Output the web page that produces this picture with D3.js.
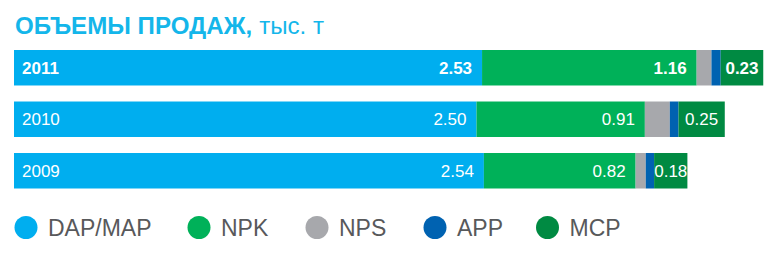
<!DOCTYPE html>
<html lang="ru">
<head>
    <meta charset="utf-8">
    <script src="https://cdn.jsdelivr.net/npm/d3@7"></script>
    <style>
        body { margin: 0; background: #fff; }
        text { font-family: "Liberation Sans", Arial, sans-serif; }
    </style>
</head>
<body>
    <svg width="782" height="261"></svg>
    <script>
        var years = ["2011", "2010", "2009"];
        var seriesNames = ["DAP/MAP", "NPK", "NPS", "APP", "MCP"];
        var dapMap = [2.53, 2.50, 2.54];
        var npk = [1.16, 0.91, 0.82];
        var nps = [0.08, 0.135, 0.055];
        var app = [0.05, 0.047, 0.045];
        var mcp = [0.23, 0.25, 0.18];
        var colors = ["#00aeef", "#00b159", "#a7a8ac", "#0062b1", "#008a42"];

        var rows = years.map(function(y, i) {
            return {year: y, "DAP/MAP": dapMap[i], NPK: npk[i], NPS: nps[i], APP: app[i], MCP: mcp[i]};
        });

        var svg = d3.select("svg");

        // title
        var title = svg.append("text")
            .attr("x", 15)
            .attr("y", 33.5)
            .attr("fill", "#14b6ea")
            .attr("font-size", "24px")
            .attr("textLength", 309)
            .attr("lengthAdjust", "spacingAndGlyphs");
        title.append("tspan").attr("font-weight", "bold").text("ОБЪЕМЫ ПРОДАЖ,");
        title.append("tspan").attr("dx", 7).text("тыс. т");

        var x = d3.scaleLinear().domain([0, 4]).range([14, 754]);
        var y = d3.scaleBand().domain(years).range([50, 188.5]).paddingInner(0.311);
        var color = d3.scaleOrdinal().domain(seriesNames).range(colors);

        var stacked = d3.stack().keys(seriesNames)(rows);

        // bars
        var layers = svg.append("g").selectAll("g")
            .data(stacked)
            .enter().append("g")
            .attr("fill", function(d) { return color(d.key); });

        layers.selectAll("rect")
            .data(function(d) { return d; })
            .enter().append("rect")
            .attr("x", function(d) { return x(d[0]); })
            .attr("y", function(d) { return y(d.data.year); })
            .attr("width", function(d) { return x(d[1]) - x(d[0]); })
            .attr("height", y.bandwidth());

        var fmt = d3.format(".2f");
        var weight = function(yr) { return yr === "2011" ? "bold" : "normal"; };

        // value labels
        layers.each(function(layer) {
            if (layer.key === "NPS" || layer.key === "APP") return;
            d3.select(this).selectAll("text")
                .data(layer)
                .enter().append("text")
                .attr("fill", "#fff")
                .attr("font-size", "17px")
                .attr("font-weight", function(d) { return weight(d.data.year); })
                .attr("dy", "0.36em")
                .attr("y", function(d) { return y(d.data.year) + y.bandwidth() / 2; })
                .attr("text-anchor", layer.key === "MCP" ? "middle" : "end")
                .attr("x", function(d) {
                    return layer.key === "MCP" ? (x(d[0]) + x(d[1])) / 2 : x(d[1]) - 10;
                })
                .text(function(d) { return fmt(d[1] - d[0]); });
        });

        // year labels
        svg.append("g").selectAll("text")
            .data(years)
            .enter().append("text")
            .attr("x", x(0) + 8)
            .attr("y", function(d) { return y(d) + y.bandwidth() / 2; })
            .attr("dy", "0.36em")
            .attr("fill", "#fff")
            .attr("font-size", "17px")
            .attr("font-weight", weight)
            .text(function(d) { return d; });

        // legend
        var legendX = [26, 199, 317, 435, 547.5];
        var legend = svg.append("g").selectAll("g")
            .data(seriesNames)
            .enter().append("g")
            .attr("transform", function(d, i) { return "translate(" + legendX[i] + ",227.5)"; });

        legend.append("circle")
            .attr("r", 11.5)
            .attr("fill", function(d) { return color(d); });

        legend.append("text")
            .attr("x", 22)
            .attr("dy", "0.36em")
            .attr("font-size", "23px")
            .attr("fill", "#58595b")
            .text(function(d) { return d; });
    </script>
</body>
</html>
